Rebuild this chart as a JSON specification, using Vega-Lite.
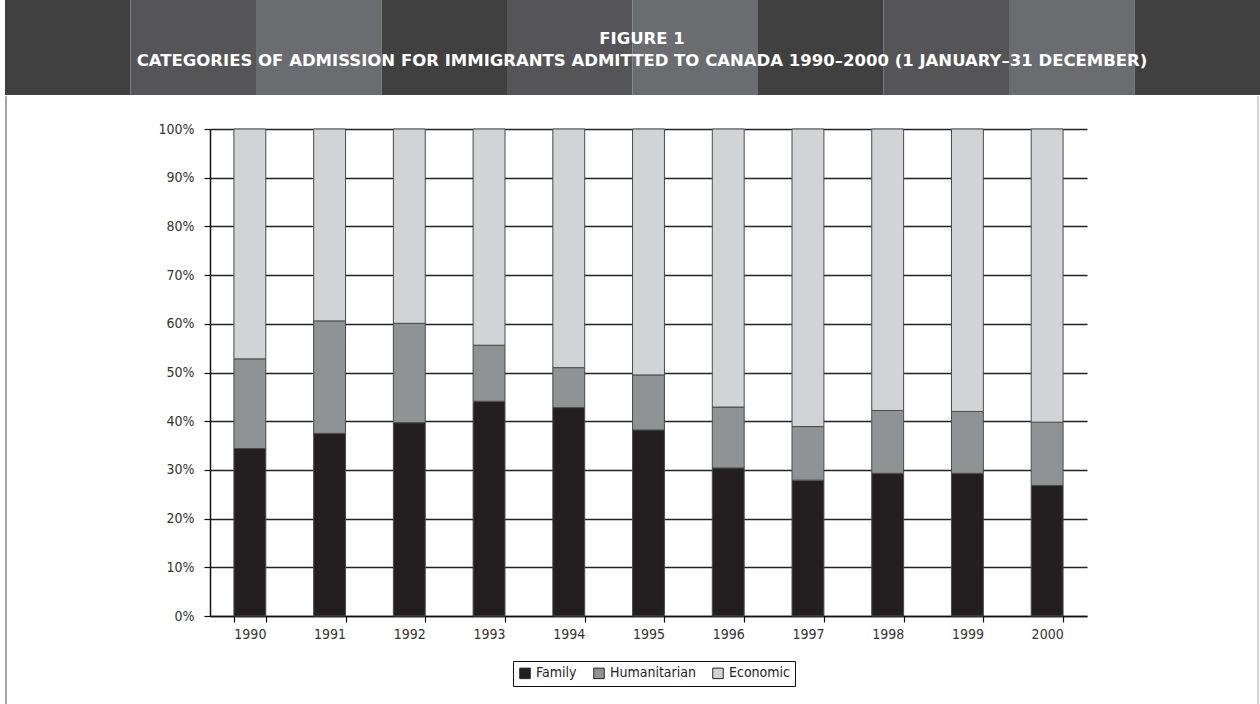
{
  "$schema": "https://vega.github.io/schema/vega-lite/v6.json",
  "padding": {"left": 5, "top": 0, "right": 0, "bottom": 0},
  "background": "white",
  "spacing": 0,
  "resolve": {"scale": {"color": "independent"}, "legend": {"color": "independent"}},
  "config": {"view": {"stroke": null}},
  "datasets": {
    "stripes": [
      {"s": 0, "tone": "a"}, {"s": 1, "tone": "b"}, {"s": 2, "tone": "c"},
      {"s": 3, "tone": "a"}, {"s": 4, "tone": "b"}, {"s": 5, "tone": "c"},
      {"s": 6, "tone": "a"}, {"s": 7, "tone": "b"}, {"s": 8, "tone": "c"},
      {"s": 9, "tone": "a"}
    ],
    "titles": [
      {"line": 1, "label": "FIGURE 1"},
      {"line": 2, "label": "CATEGORIES OF ADMISSION FOR IMMIGRANTS ADMITTED TO CANADA 1990–2000 (1 JANUARY–31 DECEMBER)"}
    ],
    "frame": [{"side": "left"}, {"side": "right"}],
    "shares": [
      {"year": "1990", "category": "Family", "rank": 1, "share": 34.4},
      {"year": "1990", "category": "Humanitarian", "rank": 2, "share": 18.4},
      {"year": "1990", "category": "Economic", "rank": 3, "share": 47.2},
      {"year": "1991", "category": "Family", "rank": 1, "share": 37.5},
      {"year": "1991", "category": "Humanitarian", "rank": 2, "share": 23.1},
      {"year": "1991", "category": "Economic", "rank": 3, "share": 39.4},
      {"year": "1992", "category": "Family", "rank": 1, "share": 39.7},
      {"year": "1992", "category": "Humanitarian", "rank": 2, "share": 20.4},
      {"year": "1992", "category": "Economic", "rank": 3, "share": 39.9},
      {"year": "1993", "category": "Family", "rank": 1, "share": 44.1},
      {"year": "1993", "category": "Humanitarian", "rank": 2, "share": 11.5},
      {"year": "1993", "category": "Economic", "rank": 3, "share": 44.4},
      {"year": "1994", "category": "Family", "rank": 1, "share": 42.8},
      {"year": "1994", "category": "Humanitarian", "rank": 2, "share": 8.2},
      {"year": "1994", "category": "Economic", "rank": 3, "share": 49.0},
      {"year": "1995", "category": "Family", "rank": 1, "share": 38.2},
      {"year": "1995", "category": "Humanitarian", "rank": 2, "share": 11.3},
      {"year": "1995", "category": "Economic", "rank": 3, "share": 50.5},
      {"year": "1996", "category": "Family", "rank": 1, "share": 30.4},
      {"year": "1996", "category": "Humanitarian", "rank": 2, "share": 12.5},
      {"year": "1996", "category": "Economic", "rank": 3, "share": 57.1},
      {"year": "1997", "category": "Family", "rank": 1, "share": 27.9},
      {"year": "1997", "category": "Humanitarian", "rank": 2, "share": 11.0},
      {"year": "1997", "category": "Economic", "rank": 3, "share": 61.1},
      {"year": "1998", "category": "Family", "rank": 1, "share": 29.3},
      {"year": "1998", "category": "Humanitarian", "rank": 2, "share": 12.9},
      {"year": "1998", "category": "Economic", "rank": 3, "share": 57.8},
      {"year": "1999", "category": "Family", "rank": 1, "share": 29.3},
      {"year": "1999", "category": "Humanitarian", "rank": 2, "share": 12.7},
      {"year": "1999", "category": "Economic", "rank": 3, "share": 58.0},
      {"year": "2000", "category": "Family", "rank": 1, "share": 26.8},
      {"year": "2000", "category": "Humanitarian", "rank": 2, "share": 13.0},
      {"year": "2000", "category": "Economic", "rank": 3, "share": 60.2}
    ]
  },
  "vconcat": [
    {
      "width": 1050,
      "height": 95,
      "layer": [
        {
          "data": {"name": "stripes"},
          "mark": {"type": "rect"},
          "encoding": {
            "x": {"field": "s", "type": "ordinal", "axis": null, "scale": {"paddingInner": 0, "paddingOuter": 0, "range": [-205, 1050]}},
            "color": {"field": "tone", "type": "nominal", "legend": null,
              "scale": {"domain": ["a", "b", "c"], "range": ["#404040", "#555558", "#6b6c6f"]}}
          }
        },
        {
          "data": {"name": "titles"},
          "mark": {"type": "text", "color": "white", "font": "DejaVu Sans", "fontWeight": "bold", "fontSize": 16.5, "dx": -93, "dy": 1},
          "encoding": {
            "y": {"field": "line", "type": "quantitative", "axis": null, "scale": {"domain": [-0.727, 3.591], "reverse": true, "nice": false, "zero": false}},
            "text": {"field": "label"}
          }
        }
      ]
    },
    {
      "width": 877,
      "height": 487,
      "resolve": {"scale": {"x": "independent", "color": "independent"}, "legend": {"color": "independent"}},
      "layer": [
        {
          "data": {"name": "shares"},
          "mark": {"type": "bar", "stroke": "#4a4a4a", "strokeWidth": 1},
          "encoding": {
            "x": {
              "field": "year", "type": "ordinal", "title": null,
              "scale": {"paddingInner": 0.6, "paddingOuter": 0.3},
              "axis": {
                "labelAngle": 0, "tickBand": "extent", "tickSize": 6, "tickColor": "#111", "tickWidth": 1.2,
                "domainColor": "#111", "domainWidth": 1.5, "labelPadding": 5,
                "labelFont": "Liberation Sans Narrow, DejaVu Sans Condensed, sans-serif", "labelFontSize": 14, "labelColor": "#333"
              }
            },
            "y": {
              "field": "share", "type": "quantitative", "stack": "zero", "title": null,
              "scale": {"domain": [0, 100], "nice": false},
              "axis": {
                "values": [0, 10, 20, 30, 40, 50, 60, 70, 80, 90, 100],
                "labelExpr": "datum.value + '%'",
                "minExtent": 205, "tickSize": 6, "tickColor": "#111", "tickWidth": 1.2,
                "domainColor": "#111", "domainWidth": 1.5, "labelPadding": 10,
                "grid": true, "gridColor": "#222", "gridWidth": 1.3, "gridOpacity": 1,
                "labelFont": "Liberation Sans Narrow, DejaVu Sans Condensed, sans-serif", "labelFontSize": 14, "labelColor": "#333"
              }
            },
            "color": {
              "field": "category", "type": "nominal",
              "sort": ["Family", "Humanitarian", "Economic"],
              "scale": {"domain": ["Family", "Humanitarian", "Economic"], "range": ["#231f20", "#909394", "#d1d3d4"]},
              "legend": {
                "title": null, "orient": "none", "legendX": 303, "legendY": 532, "direction": "horizontal",
                "symbolType": "square", "symbolSize": 110, "symbolStrokeColor": "#222", "symbolStrokeWidth": 1,
                "labelFont": "Liberation Sans Narrow, DejaVu Sans Condensed, sans-serif", "labelFontSize": 14, "labelColor": "#222",
                "strokeColor": "#111", "padding": 5, "columnPadding": 14, "labelOffset": 4
              }
            },
            "order": {"field": "rank", "type": "quantitative", "sort": "ascending"}
          }
        },
        {
          "data": {"name": "frame"},
          "mark": {"type": "rule", "strokeWidth": 1.5},
          "encoding": {
            "x": {"field": "side", "type": "ordinal", "axis": null, "scale": {"type": "point", "padding": 0, "domain": ["left", "right"], "range": [-204, 1048]}},
            "y": {"datum": 106.7},
            "y2": {"datum": -18.1},
            "color": {"field": "side", "type": "nominal", "legend": null, "scale": {"domain": ["left", "right"], "range": ["#8a8a8a", "#c4c4c4"]}}
          }
        }
      ]
    }
  ]
}
